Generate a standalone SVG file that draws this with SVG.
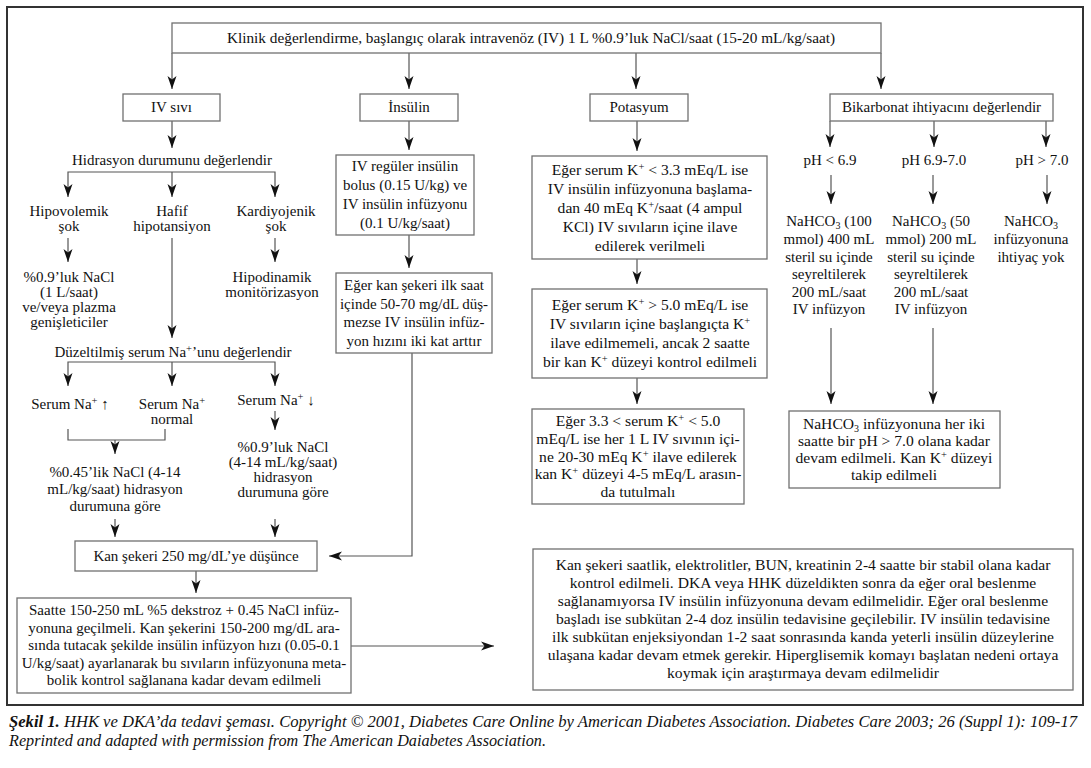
<svg xmlns="http://www.w3.org/2000/svg" width="1091" height="768" viewBox="0 0 1091 768">
<defs>
<marker id="ah" markerUnits="userSpaceOnUse" markerWidth="14" markerHeight="10" refX="13" refY="5" orient="auto"><path d="M0,0.5 L13,5 L0,9.5 L3.5,5 Z" fill="#111"/></marker>
</defs>
<style>
text{font-family:"Liberation Serif","Times New Roman",serif;font-size:15px;fill:#111;text-anchor:middle}
.big text{font-size:15.6px}
.box{fill:#fff;stroke:#707070;stroke-width:1.3}
.ln{fill:none;stroke:#555;stroke-width:1.2}
.ar{marker-end:url(#ah)}
.cap{font-style:italic;text-anchor:start;font-size:16px}
</style>
<rect x="0" y="0" width="1091" height="768" fill="#fff"/>
<rect x="7" y="7" width="1076" height="698" fill="none" stroke="#333" stroke-width="2"/>

<g id="connectors" class="ln">
<path class="ar" d="M172,53 V89"/>
<path class="ar" d="M409,53 V89"/>
<path class="ar" d="M636,53 V89"/>
<path class="ar" d="M881,53 V89"/>
<path class="ar" d="M172,121 V148"/>
<path class="ar" d="M172,172 H68 V197"/>
<path class="ar" d="M172,172 V197"/>
<path class="ar" d="M172,172 H275 V197"/>
<path class="ar" d="M68,238 V262"/>
<path class="ar" d="M172,238 V338"/>
<path class="ar" d="M275,238 V262"/>
<path class="ar" d="M172,362 H68 V386"/>
<path class="ar" d="M172,362 V386"/>
<path class="ar" d="M172,362 H275 V386"/>
<path d="M68,429 V440 H165 V429"/>
<path class="ar" d="M115,440 V454"/>
<path class="ar" d="M275,411 V430"/>
<path class="ar" d="M115,519 V537"/>
<path class="ar" d="M275,519 V537"/>
<path class="ar" d="M196,571 V593"/>
<path class="ar" d="M351,646 H494"/>
<path class="ar" d="M412,353 V556 H329"/>
<path class="ar" d="M409,121 V150"/>
<path class="ar" d="M409,235 V268"/>
<path class="ar" d="M637,121 V151"/>
<path class="ar" d="M637,259 V284"/>
<path class="ar" d="M637,378 V404"/>
<path class="ar" d="M830,121 V147"/>
<path class="ar" d="M934,121 V147"/>
<path class="ar" d="M1046,121 V147"/>
<path class="ar" d="M831,175 V204"/>
<path class="ar" d="M933,175 V204"/>
<path class="ar" d="M1047,175 V204"/>
<path class="ar" d="M831,328 V404"/>
<path class="ar" d="M933,328 V404"/>
</g>

<g id="n-top"><rect class="box" x="172" y="23" width="709" height="30"/>
<text x="531" y="43" style="font-size:15.3px">Klinik değerlendirme, başlangıç olarak intravenöz (IV) 1 L %0.9’luk NaCl/saat (15-20 mL/kg/saat)</text></g>

<g id="n-ivsivi"><rect class="box" x="123" y="94" width="97" height="27"/><text x="171.5" y="112">IV sıvı</text></g>
<g id="n-insulin"><rect class="box" x="360" y="94" width="98" height="27"/><text x="409" y="112">İnsülin</text></g>
<g id="n-potasyum"><rect class="box" x="590" y="94" width="98" height="27"/><text x="639" y="112">Potasyum</text></g>
<g id="n-bikarbonat"><rect class="box" x="830" y="94" width="223" height="27"/><text x="941.5" y="112">Bikarbonat ihtiyacını değerlendir</text></g>

<g id="n-hidrasyon"><text x="172" y="165">Hidrasyon durumunu değerlendir</text></g>
<g id="n-hipovolemik"><text x="69" y="216">Hipovolemik</text><text x="69" y="231">şok</text></g>
<g id="n-hafif"><text x="172" y="216">Hafif</text><text x="172" y="231">hipotansiyon</text></g>
<g id="n-kardiyojenik"><text x="276" y="216">Kardiyojenik</text><text x="276" y="231">şok</text></g>
<g id="n-nacl1"><text x="69" y="282">%0.9’luk NaCl</text><text x="69" y="297">(1 L/saat)</text><text x="69" y="312">ve/veya plazma</text><text x="69" y="327">genişleticiler</text></g>
<g id="n-hipodinamik"><text x="272" y="282">Hipodinamik</text><text x="272" y="297">monitörizasyon</text></g>
<g id="n-duzeltilmis"><text x="173" y="357">Düzeltilmiş serum Na<tspan baseline-shift="super" font-size="10.5">+</tspan>’unu değerlendir</text></g>
<g id="n-naup"><text x="70" y="409">Serum Na<tspan baseline-shift="super" font-size="10.5">+</tspan> ↑</text></g>
<g id="n-nanormal"><text x="172" y="409">Serum Na<tspan baseline-shift="super" font-size="10.5">+</tspan></text><text x="172" y="424">normal</text></g>
<g id="n-nadown"><text x="276" y="405">Serum Na<tspan baseline-shift="super" font-size="10.5">+</tspan> ↓</text></g>
<g id="n-nacl045"><text x="115" y="477">%0.45’lik NaCl (4-14</text><text x="115" y="494">mL/kg/saat) hidrasyon</text><text x="115" y="511">durumuna göre</text></g>
<g id="n-nacl09b"><text x="283" y="452">%0.9’luk NaCl</text><text x="283" y="467">(4-14 mL/kg/saat)</text><text x="283" y="482">hidrasyon</text><text x="283" y="497">durumuna göre</text></g>
<g id="n-kansekeri250"><rect class="box" x="75" y="541" width="242" height="30"/><text x="196" y="561">Kan şekeri 250 mg/dL’ye düşünce</text></g>
<g id="n-dekstroz"><rect class="box" x="17" y="598" width="334" height="95"/>
<text x="184" y="615">Saatte 150-250 mL %5 dekstroz + 0.45 NaCl infüz-</text>
<text x="184" y="632.5">yonuna geçilmeli. Kan şekerini 150-200 mg/dL ara-</text>
<text x="184" y="650">sında tutacak şekilde insülin infüzyon hızı (0.05-0.1</text>
<text x="184" y="667.5">U/kg/saat) ayarlanarak bu sıvıların infüzyonuna meta-</text>
<text x="184" y="685">bolik kontrol sağlanana kadar devam edilmeli</text></g>

<g id="n-insulin1"><rect class="box" x="336" y="155" width="138" height="80"/>
<text x="405" y="171">IV regüler insülin</text><text x="405" y="190">bolus (0.15 U/kg) ve</text><text x="405" y="209">IV insülin infüzyonu</text><text x="405" y="228">(0.1 U/kg/saat)</text></g>
<g id="n-insulin2"><rect class="box" x="336" y="273" width="156" height="80"/>
<text x="414" y="290">Eğer kan şekeri ilk saat</text><text x="414" y="309">içinde 50-70 mg/dL düş-</text><text x="414" y="327">mezse IV insülin infüz-</text><text x="414" y="346">yon hızını iki kat arttır</text></g>

<g id="n-k1" class="big"><rect class="box" x="532" y="156" width="235" height="103"/>
<text x="650" y="175">Eğer serum K<tspan baseline-shift="super" font-size="10.5">+</tspan> &lt; 3.3 mEq/L ise</text>
<text x="650" y="194">IV insülin infüzyonuna başlama-</text>
<text x="650" y="213">dan 40 mEq K<tspan baseline-shift="super" font-size="10.5">+</tspan>/saat (4 ampul</text>
<text x="650" y="232">KCl) IV sıvıların içine ilave</text>
<text x="650" y="251">edilerek verilmeli</text></g>
<g id="n-k2" class="big"><rect class="box" x="532" y="289" width="235" height="89"/>
<text x="650" y="310">Eğer serum K<tspan baseline-shift="super" font-size="10.5">+</tspan> &gt; 5.0 mEq/L ise</text>
<text x="650" y="329">IV sıvıların içine başlangıçta K<tspan baseline-shift="super" font-size="10.5">+</tspan></text>
<text x="650" y="348">ilave edilmemeli, ancak 2 saatte</text>
<text x="650" y="367">bir kan K<tspan baseline-shift="super" font-size="10.5">+</tspan> düzeyi kontrol edilmeli</text></g>
<g id="n-k3" class="big"><rect class="box" x="532" y="409" width="212" height="95"/>
<text x="638" y="426">Eğer 3.3 &lt; serum K<tspan baseline-shift="super" font-size="10.5">+</tspan> &lt; 5.0</text>
<text x="638" y="444">mEq/L ise her 1 L IV sıvının içi-</text>
<text x="638" y="461.5">ne 20-30 mEq K<tspan baseline-shift="super" font-size="10.5">+</tspan> ilave edilerek</text>
<text x="638" y="479">kan K<tspan baseline-shift="super" font-size="10.5">+</tspan> düzeyi 4-5 mEq/L arasın-</text>
<text x="638" y="496.5">da tutulmalı</text></g>

<g id="n-ph1"><text x="830" y="165">pH &lt; 6.9</text></g>
<g id="n-ph2"><text x="934" y="165">pH 6.9-7.0</text></g>
<g id="n-ph3"><text x="1042" y="165">pH &gt; 7.0</text></g>
<g id="n-nahco1"><text x="829" y="226">NaHCO<tspan dy="2.5" font-size="10">3</tspan><tspan dy="-2.5"> (100</tspan></text><text x="829" y="244">mmol) 400 mL</text><text x="829" y="261.5">steril su içinde</text><text x="829" y="279">seyreltilerek</text><text x="829" y="296.5">200 mL/saat</text><text x="829" y="314">IV infüzyon</text></g>
<g id="n-nahco2"><text x="931" y="226">NaHCO<tspan dy="2.5" font-size="10">3</tspan><tspan dy="-2.5"> (50</tspan></text><text x="931" y="244">mmol) 200 mL</text><text x="931" y="261.5">steril su içinde</text><text x="931" y="279">seyreltilerek</text><text x="931" y="296.5">200 mL/saat</text><text x="931" y="314">IV infüzyon</text></g>
<g id="n-nahco3"><text x="1031" y="226">NaHCO<tspan dy="2.5" font-size="10">3</tspan></text><text x="1031" y="244">infüzyonuna</text><text x="1031" y="261.5">ihtiyaç yok</text></g>
<g id="n-nahcoend" class="big"><rect class="box" x="789" y="411" width="211" height="77"/>
<text x="894" y="429">NaHCO<tspan dy="2.5" font-size="10">3</tspan><tspan dy="-2.5"> infüzyonuna her iki</tspan></text>
<text x="894" y="446">saatte bir pH &gt; 7.0 olana kadar</text>
<text x="894" y="463">devam edilmeli. Kan K<tspan baseline-shift="super" font-size="10.5">+</tspan> düzeyi</text>
<text x="894" y="480">takip edilmeli</text></g>

<g id="n-izlem" class="big"><rect class="box" x="533" y="549" width="540" height="141"/>
<text x="803" y="570">Kan şekeri saatlik, elektrolitler, BUN, kreatinin 2-4 saatte bir stabil olana kadar</text>
<text x="803" y="588">kontrol edilmeli. DKA veya HHK düzeldikten sonra da eğer oral beslenme</text>
<text x="803" y="606">sağlanamıyorsa IV insülin infüzyonuna devam edilmelidir. Eğer oral beslenme</text>
<text x="803" y="624">başladı ise subkütan 2-4 doz insülin tedavisine geçilebilir. IV insülin tedavisine</text>
<text x="803" y="642">ilk subkütan enjeksiyondan 1-2 saat sonrasında kanda yeterli insülin düzeylerine</text>
<text x="803" y="660">ulaşana kadar devam etmek gerekir. Hiperglisemik komayı başlatan nedeni ortaya</text>
<text x="803" y="678">koymak için araştırmaya devam edilmelidir</text></g>

<g id="caption">
<text class="cap" x="9" y="727" textLength="1068" lengthAdjust="spacingAndGlyphs"><tspan font-weight="bold">Şekil 1.</tspan> HHK ve DKA’da tedavi şeması. Copyright © 2001, Diabetes Care Online by American Diabetes Association. Diabetes Care 2003; 26 (Suppl 1): 109-17</text>
<text class="cap" x="9" y="746" textLength="537" lengthAdjust="spacingAndGlyphs">Reprinted and adapted with permission from The American Daiabetes Association.</text>
</g>
</svg>
